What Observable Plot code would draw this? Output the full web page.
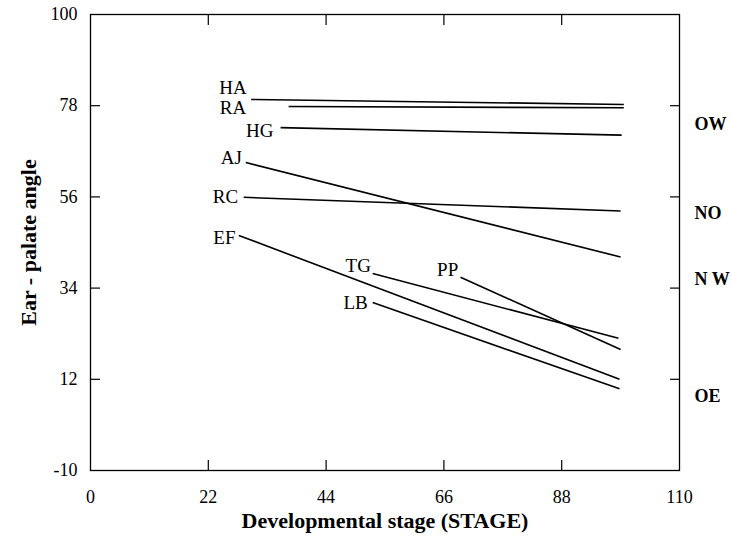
<!DOCTYPE html>
<html>
<head>
<meta charset="utf-8">
<script src="https://cdn.jsdelivr.net/npm/d3@7"></script>
<script src="https://cdn.jsdelivr.net/npm/@observablehq/plot@0.6"></script>
<style>
  html, body { margin: 0; padding: 0; background: #fff; }
  svg { display: block; }
</style>
</head>
<body>
<div id="chart"></div>
<script>
// Series (regression segments per subject)
const names      = ["HA", "RA", "HG", "AJ", "RC", "EF", "TG", "PP", "LB"];
const startStage = [30.0, 37.0, 35.5, 29.0, 28.6, 27.7, 52.7, 69.1, 52.7];
const startAngle = [79.5, 77.8, 72.7, 64.3, 55.9, 46.7, 37.5, 36.6, 30.5];
const endStage   = [99.6, 99.6, 99.2, 99.0, 99.0, 98.8, 98.6, 99.0, 98.8];
const endAngle   = [78.3, 77.5, 70.9, 41.5, 52.6, 12.0, 21.9, 19.2, 9.7];
// Label anchor positions (data coords)
const labelStage = [26.6, 26.6, 31.6, 26.3, 25.2, 25.0, 50.0, 66.7, 49.5];
const labelAngle = [82.3, 77.4, 71.8, 65.5, 55.9, 46.2, 39.4, 38.5, 30.5];

// Right-side category labels
const zoneNames = ["OW", "NO", "N W", "OE"];
const zoneAngle = [73.5, 52.0, 36.1, 7.8];

// Axis ticks
const xTicks = [0, 22, 44, 66, 88, 110];
const yTicks = [-10, 12, 34, 56, 78, 100];
const xInnerTicks = [22, 44, 66, 88];
const yRightTicks = [12, 34, 56, 78];

const segs = names.map((n, i) => ({
  name: n, x1: startStage[i], y1: startAngle[i], x2: endStage[i], y2: endAngle[i],
  lx: labelStage[i], ly: labelAngle[i]
}));
const zones = zoneNames.map((z, i) => ({ z, y: zoneAngle[i] }));

const serif = "'Liberation Serif', 'DejaVu Serif', serif";

const chart = Plot.plot({
  width: 732,
  height: 546,
  marginLeft: 90,
  marginRight: 53,
  marginTop: 14,
  marginBottom: 76,
  style: { fontFamily: serif, background: "#fff", color: "#000" },
  x: { domain: [0, 110] },
  y: { domain: [-10, 100] },
  marks: [
    Plot.frame({ stroke: "#000", strokeWidth: 1.3 }),
    // inward tick marks
    Plot.axisX({ ticks: xInnerTicks, anchor: "bottom", tickSize: -10, text: null, label: null, strokeWidth: 1.2 }),
    Plot.axisX({ ticks: xInnerTicks, anchor: "top", tickSize: -10, text: null, label: null, strokeWidth: 1.2 }),
    Plot.axisY({ ticks: [12, 34, 56, 78], anchor: "left", tickSize: -10, text: null, label: null, strokeWidth: 1.2 }),
    Plot.axisY({ ticks: yRightTicks, anchor: "right", tickSize: -10, text: null, label: null, strokeWidth: 1.2 }),
    // tick labels
    Plot.axisX({ ticks: xTicks, anchor: "bottom", tickSize: 0, tickPadding: 20, label: null, fontSize: 18, letterSpacing: "1px", tickFormat: d => String(d) }),
    Plot.axisY({ ticks: yTicks, anchor: "left", tickSize: 0, tickPadding: 13, label: null, fontSize: 18, letterSpacing: "0.5px", tickFormat: d => String(d) }),
    // segments
    Plot.link(segs, { x1: "x1", y1: "y1", x2: "x2", y2: "y2", stroke: "#000", strokeWidth: 1.6 }),
    // labels
    Plot.text(segs, { x: "lx", y: "ly", text: "name", fontSize: 19, letterSpacing: "2px", fill: "#000", textAnchor: "middle" }),
    // right zone labels
    Plot.text(zones, { x: () => 110, y: "y", text: "z", dx: 15, textAnchor: "start", fontSize: 18, letterSpacing: "0.5px", fontWeight: "bold", fill: "#000" }),
    // axis titles
    Plot.text(["Developmental stage (STAGE)"], { frameAnchor: "bottom", textAnchor: "middle", dy: 57, fontSize: 22, fontWeight: "bold", fill: "#000", letterSpacing: "2px" }),
    Plot.text(["Ear - palate angle"], { frameAnchor: "left", textAnchor: "middle", dx: -62, rotate: -90, fontSize: 22, fontWeight: "bold", fill: "#000", letterSpacing: "1px" })
  ]
});
document.getElementById("chart").appendChild(chart);
</script>
</body>
</html>
